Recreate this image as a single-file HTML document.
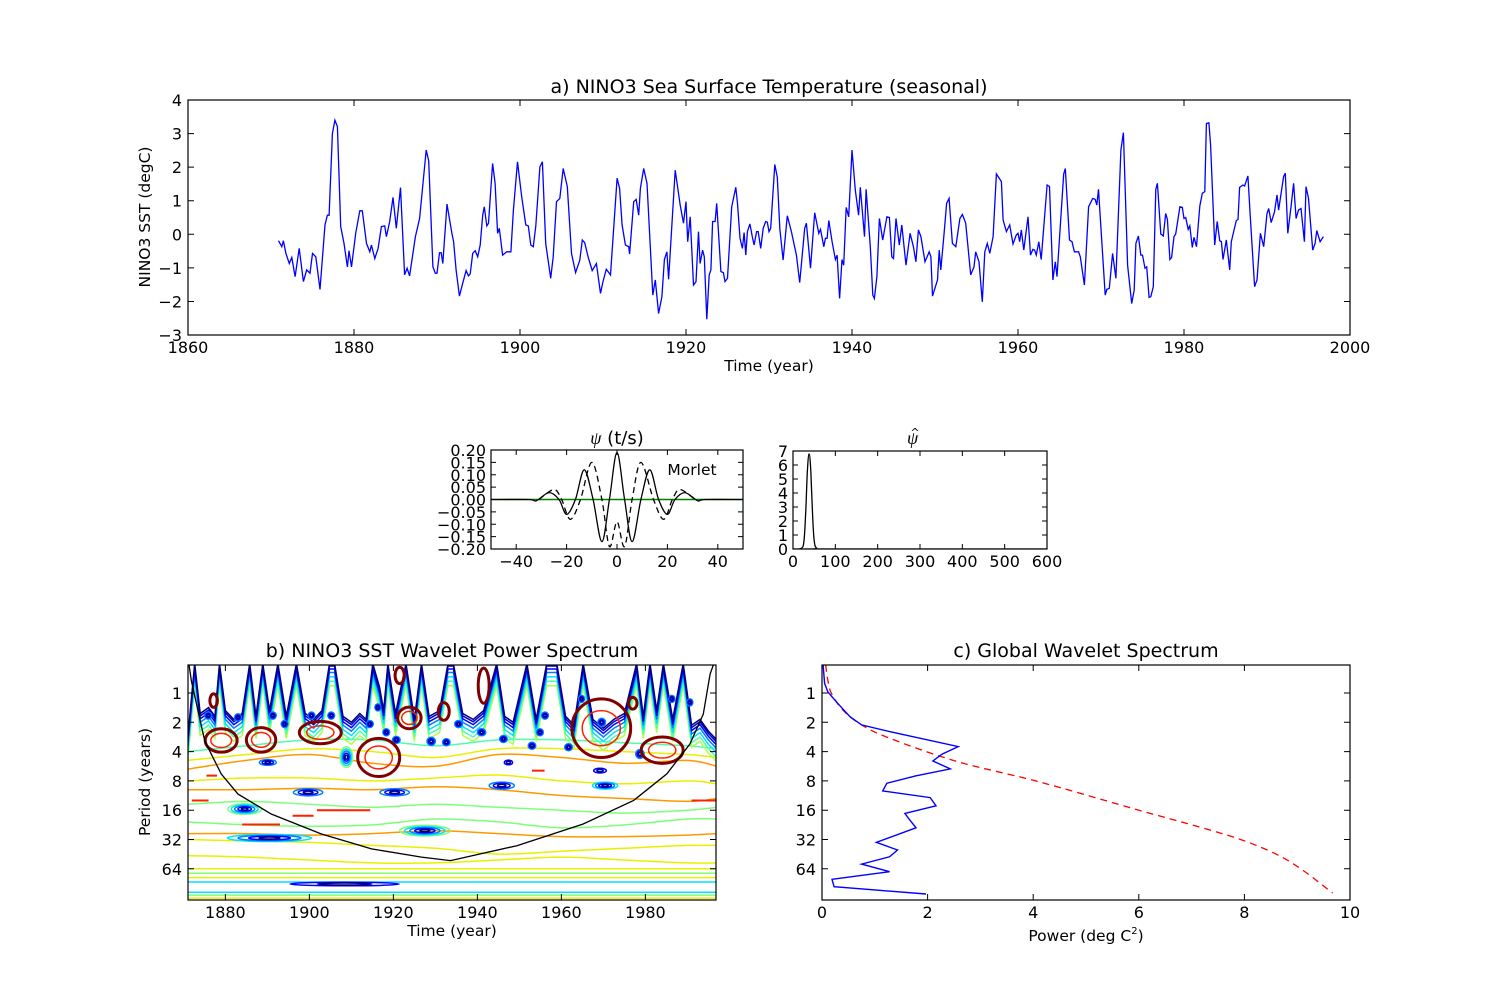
<!DOCTYPE html>
<html><head><meta charset="utf-8">
<style>
html,body{margin:0;padding:0;background:#fff;}
svg{display:block;font-family:"DejaVu Sans","Liberation Sans",sans-serif;}
</style></head>
<body>
<svg id="fig" width="1500" height="1000" viewBox="0 0 1500 1000" xmlns="http://www.w3.org/2000/svg">
<rect width="1500" height="1000" fill="#fff"/>
<defs>
<clipPath id="clipB"><rect x="188" y="665" width="528" height="235"/></clipPath>
<clipPath id="clipC"><rect x="822" y="665" width="528" height="235"/></clipPath>
<clipPath id="clipA"><rect x="188" y="100" width="1162" height="235"/></clipPath>
<clipPath id="clipP"><rect x="491" y="450" width="252" height="99"/></clipPath>
<clipPath id="clipH"><rect x="793" y="451" width="254" height="98"/></clipPath>
</defs>
</svg>
<script>
// ---------- Panel a data ----------
const sstYears=[1870.9,1871.3,1871.5,1871.8,1872.2,1872.5,1872.9,1873.4,1873.9,1874.3,1874.7,1875.0,1875.4,1875.9,1876.5,1876.8,1877.0,1877.4,1877.7,1878.0,1878.4,1878.8,1879.2,1879.4,1879.7,1880.2,1880.7,1881.0,1881.5,1881.9,1882.1,1882.5,1882.9,1883.3,1883.7,1883.9,1884.3,1884.7,1885.1,1885.6,1886.1,1886.4,1886.7,1887.4,1887.9,1888.7,1889.0,1889.5,1889.8,1890.0,1890.3,1890.5,1890.7,1891.2,1891.8,1892.0,1892.3,1892.7,1893.1,1893.5,1893.8,1894.0,1894.3,1894.6,1894.9,1895.2,1895.5,1895.7,1896.0,1896.2,1896.7,1897.0,1897.3,1897.5,1897.9,1898.4,1898.9,1899.2,1899.7,1900.2,1900.7,1901.0,1901.3,1901.6,1901.9,1902.4,1902.7,1903.1,1903.7,1904.0,1904.4,1904.8,1905.2,1905.7,1906.2,1906.7,1907.2,1907.5,1907.8,1908.2,1908.7,1909.2,1909.7,1910.0,1910.4,1910.9,1911.7,1912.0,1912.3,1912.7,1913.1,1913.2,1913.7,1914.0,1914.3,1914.5,1914.9,1915.3,1916.0,1916.3,1916.7,1917.1,1917.4,1917.7,1917.9,1918.7,1919.3,1919.7,1920.0,1920.2,1920.5,1920.9,1921.2,1921.5,1921.7,1922.0,1922.2,1922.5,1922.8,1923.0,1923.2,1923.5,1923.7,1924.2,1924.5,1924.7,1925.0,1925.5,1926.0,1926.2,1926.5,1926.8,1927.0,1927.2,1927.4,1927.7,1928.0,1928.2,1928.5,1928.7,1929.0,1929.3,1929.6,1929.8,1930.0,1930.2,1930.7,1931.0,1931.3,1931.7,1932.2,1932.7,1933.3,1933.7,1934.3,1934.5,1935.0,1935.5,1936.0,1936.2,1936.6,1936.8,1937.0,1937.2,1937.6,1938.0,1938.2,1938.5,1938.8,1939.0,1939.3,1939.6,1940.0,1940.4,1940.8,1941.0,1941.5,1941.7,1942.2,1942.5,1942.7,1943.0,1943.3,1943.7,1944.2,1944.5,1944.8,1945.0,1945.3,1945.7,1946.0,1946.5,1947.0,1947.4,1947.7,1948.0,1948.3,1948.8,1949.3,1949.5,1949.7,1950.3,1950.5,1950.7,1951.1,1951.4,1951.7,1952.1,1952.5,1953.0,1953.3,1953.7,1954.3,1954.7,1954.9,1955.3,1955.7,1956.0,1956.3,1956.6,1957.0,1957.4,1958.0,1958.2,1958.6,1959.0,1959.4,1959.8,1960.0,1960.2,1960.4,1960.7,1961.2,1961.5,1961.8,1962.0,1962.2,1962.5,1962.8,1963.5,1963.8,1964.2,1964.5,1964.7,1965.5,1965.7,1966.2,1966.5,1966.8,1967.3,1967.5,1968.0,1968.5,1969.0,1969.3,1969.5,1969.7,1970.5,1970.7,1971.0,1971.4,1971.8,1972.4,1972.7,1973.2,1973.7,1974.0,1974.2,1974.5,1974.8,1975.0,1975.3,1975.5,1975.8,1976.0,1976.3,1976.6,1976.8,1977.2,1977.5,1977.8,1978.0,1978.3,1978.5,1978.8,1979.0,1979.5,1979.8,1980.0,1980.2,1980.5,1980.7,1981.0,1981.2,1981.5,1981.9,1982.2,1982.5,1982.7,1983.0,1983.2,1983.7,1984.0,1984.3,1984.5,1984.7,1985.1,1985.5,1985.7,1986.3,1986.5,1986.7,1987.1,1987.3,1987.7,1988.0,1988.5,1988.8,1989.2,1989.6,1990.0,1990.2,1990.5,1990.9,1991.2,1991.4,1992.0,1992.2,1992.5,1992.9,1993.2,1993.5,1993.8,1994.1,1994.5,1994.7,1995.0,1995.5,1995.8,1996.0,1996.4,1996.8];
const sstValues=[-0.19,-0.37,-0.19,-0.57,-0.87,-0.69,-1.26,-0.42,-1.41,-1.06,-1.16,-0.57,-0.67,-1.64,0.28,0.57,0.57,3.0,3.40,3.21,0.23,-0.27,-0.97,-0.49,-0.97,0.03,0.70,0.70,-0.27,-0.52,-0.32,-0.72,-0.42,0.23,0.25,-0.07,0.38,1.10,0.18,1.39,-1.21,-1.01,-1.24,-0.07,0.47,2.51,2.19,-0.97,-1.16,-1.16,-0.55,-0.55,-0.87,0.90,0.03,-0.22,-1.06,-1.84,-1.46,-1.08,-1.24,-1.18,-0.57,-0.49,-0.67,-0.32,0.57,0.82,0.25,0.33,2.11,1.52,0.03,0.18,-0.62,-0.52,-0.52,0.72,2.16,1.12,0.28,0.25,-0.32,-0.37,0.25,2.01,2.16,-0.27,-1.31,-0.67,0.97,1.07,1.96,1.42,-0.57,-1.14,-0.77,-0.17,-0.25,-0.67,-1.08,-0.87,-1.76,-1.41,-1.04,-1.21,1.67,1.37,0.28,-0.32,-0.37,-0.59,0.97,1.04,0.57,1.37,1.96,1.52,-1.81,-1.36,-2.36,-1.86,-0.75,-0.52,-1.34,1.91,0.87,0.33,0.97,-0.22,0.52,-1.51,-1.41,0.08,-0.87,-0.47,-0.67,-2.53,-1.21,-1.06,0.38,0.38,0.92,-1.11,-1.14,-1.41,-1.31,0.82,1.40,0.92,-0.12,-0.42,0.05,-0.62,0.08,0.31,-0.09,-0.32,0.08,0.08,-0.42,0.18,0.38,0.36,0.08,0.18,2.08,1.70,0.18,-0.77,0.55,0.08,-0.62,-1.44,0.18,0.33,-1.01,0.64,0.03,0.15,-0.37,-0.12,-0.12,0.41,-0.22,-0.75,-0.62,-1.91,-0.75,-0.92,0.80,0.52,2.51,1.32,0.57,1.40,-0.07,1.34,-0.37,-1.81,-1.91,-1.26,0.47,-0.17,0.52,0.50,-0.67,-0.72,0.47,-0.32,0.28,-0.92,0.03,-0.37,-0.82,0.13,-0.07,-0.82,-0.52,-0.67,-1.84,-1.36,-0.47,-1.06,0.03,0.92,1.07,-0.27,-0.37,0.47,0.59,0.33,-1.21,-0.97,-0.52,-0.82,-2.01,-0.52,-0.27,-0.57,-0.07,1.80,1.57,0.43,0.08,0.28,-0.29,-0.02,0.03,-0.22,0.13,-0.47,0.52,-0.62,-0.45,-0.47,-0.62,-0.22,-0.75,1.47,1.42,-1.36,-0.82,-1.26,1.80,1.96,-0.17,-0.22,-0.52,-0.52,-0.67,-1.51,0.82,1.07,1.04,0.87,1.34,-1.81,-1.64,-1.61,-0.57,-1.31,2.51,3.03,-0.92,-2.06,-1.66,-0.27,-0.05,-0.62,-0.62,-1.01,-0.97,-1.88,-1.86,-1.56,1.34,1.52,0.01,-0.05,0.62,0.44,-0.75,-0.69,-0.07,0.01,0.82,0.80,0.47,0.50,0.15,0.25,-0.39,-0.09,-0.37,0.84,1.22,1.27,3.30,3.32,2.66,-0.32,0.38,-0.19,-0.22,-0.75,-0.17,-1.06,-0.22,0.41,0.44,1.40,1.47,1.44,1.74,0.47,-1.56,-1.36,0.03,-0.37,0.62,0.77,0.35,0.67,1.17,0.72,1.72,1.82,0.03,0.84,1.52,0.47,0.72,0.77,-0.22,1.42,1.07,-0.47,-0.27,0.11,-0.22,-0.07];
const aXTicks=[1860,1880,1900,1920,1940,1960,1980,2000];
const aYTicks=[4,3,2,1,0,-1,-2,-3];

// ---------- Wavelet function data ----------
const psiRealT=[-50,-35,-32,-27,-23,-20,-16.5,-13,-9.5,-6,-3,0,3,6,9.5,13,16.5,20,23,27,32,35,50];
const psiRealV=[0,0,-0.005,0.028,0,-0.06,0,0.12,0,-0.17,0,0.19,0,-0.17,0,0.12,0,-0.06,0,0.028,-0.005,0,0];
const psiImagT=[-31,-25,-22,-18.5,-14.5,-10,-6,-3,0,3,6,9.5,14.5,18.5,22,25,31];
const psiImagV=[0,0.04,0,-0.08,0,0.15,0,-0.19,-0.09,-0.19,0,0.15,0,-0.08,0,0.04,0];
const psiXTicks=[-40,-20,0,20,40];
const psiYTicks=[0.20,0.15,0.10,0.05,0.00,-0.05,-0.10,-0.15,-0.20];
const hatF=[0,20,26,30,34,38,42,46,50,56,70,600];
const hatV=[0,0.05,0.6,2.6,5.6,6.8,5.6,2.6,0.6,0.05,0,0];
const hatXTicks=[0,100,200,300,400,500,600];
const hatYTicks=[0,1,2,3,4,5,6,7];

// ---------- Panel b data ----------
const bXTicks=[1880,1900,1920,1940,1960,1980];
const periodTicks=[1,2,4,8,16,32,64];
const ridgeYears=[1871,1872.7,1874,1876,1877.5,1878.6,1880,1882,1884,1885.8,1887.3,1888.9,1890.5,1892.5,1894.5,1896.9,1899,1901,1903,1904.8,1906,1908,1910,1912,1913.5,1915.1,1916.7,1917.7,1918.7,1920.5,1923,1925,1926.7,1928.5,1931,1933,1934.3,1936.5,1939,1941.5,1944.6,1946.5,1948.5,1951.8,1954,1956.5,1958.9,1961,1963,1965.2,1967.5,1970,1972.5,1975,1977.9,1979.5,1981.1,1982.7,1984.3,1986.5,1989,1991,1993,1995,1997];
const ridgeLog2=[1.6,-1,0.7,0.5,0.8,-1,0.6,0.9,0.7,-1,0.8,-1,0.6,-1,0.8,-1,0.7,0.9,0.6,-1,-1,0.8,1.0,0.7,0.9,-1,-0.2,0.6,-1,0.7,-1,0.9,-1,0.8,0.6,-1,-1,0.7,0.9,0.6,-1,0.8,1.0,-1,0.9,-1,-1,0.8,1.1,-1,0.9,1.2,0.9,0.7,-1,0.8,-1,0.6,-1,0.9,-1,1.1,0.9,1.3,1.6];
const blobYear=[1879,1888.5,1902.6,1916.5,1877.2,1923.8,1932,1921.5,1941.5,1969.5,1984,1977];
const blobLog2=[1.62,1.6,1.35,2.2,0.26,0.85,0.63,-0.6,-0.25,1.2,1.95,0.35];
const blobHalfW=[3.8,3.5,5,5,0.9,2.8,1.3,1.1,1.3,7,5,1];
const blobHalfH=[0.4,0.42,0.38,0.65,0.23,0.37,0.3,0.28,0.6,1.0,0.45,0.2];
const dashY1=[1872,1901.8,1896,1884,1875.5,1953,1991];
const dashY2=[1876,1914.5,1901,1893,1878,1956,1997];
const dashLog2=[3.67,4.0,4.19,4.49,2.82,2.65,3.67];
const ringYear=[1875.9,1883.0,1891.3,1894.1,1900.5,1905.2,1908.8,1914.4,1916.3,1918.3,1920.7,1929,1932.6,1890.1,1884.6,1899.7,1920.3,1890.5,1927.5,1935.5,1941,1946.2,1953,1954.9,1956.1,1961.7,1969.6,1964.8,1986.3,1990.6,1945.8,1970.4,1969.2,1947.4,1978.7,1908.4];
const ringLog2=[0.77,0.83,0.77,1.06,0.77,0.77,2.19,1.06,0.49,1.34,1.6,1.65,1.68,2.37,3.96,3.39,3.39,4.95,4.7,1.06,1.34,1.57,1.8,1.34,0.77,1.85,1.0,0.2,0.2,0.32,3.16,3.16,2.65,2.37,2.08,6.52];
const ringHalfW=[0.8,0.8,0.8,0.8,0.8,0.8,1.5,0.8,0.7,0.8,0.9,1.0,0.9,2,4,3.5,3.5,10,6,0.9,1,0.9,0.9,0.8,0.8,0.9,0.9,0.7,0.7,0.7,3,3,1.5,1,1,13];
const ringHalfH=[0.12,0.12,0.12,0.12,0.12,0.12,0.35,0.12,0.12,0.12,0.12,0.14,0.12,0.1,0.18,0.12,0.12,0.12,0.18,0.12,0.12,0.12,0.12,0.12,0.12,0.12,0.14,0.12,0.12,0.12,0.12,0.12,0.08,0.08,0.15,0.06];
const ringCount=[3,3,3,3,3,3,5,3,3,3,3,3,3,3,5,3,3,4,5,3,3,3,3,3,3,3,3,3,3,3,3,4,2,2,3,2];
const bandYears=[1871,1885,1900,1915,1930,1945,1960,1975,1990,1997];
const bandOrangeUp=[2.6,2.3,2.1,2.4,2.5,2.1,2.2,2.4,2.3,2.5];
const bandYellowUp=[2.3,2.1,1.9,2.0,2.2,1.9,1.9,2.0,2.1,2.2];
const bandGreenUp=[2.0,1.8,1.6,1.6,1.8,1.6,1.6,1.7,1.8,1.9];
const bandYellowMid=[3.0,2.9,2.9,3.0,2.9,2.8,3.0,3.1,3.0,3.1];
const bandOrangeMid=[3.3,3.3,3.25,3.3,3.2,3.3,3.5,3.6,3.7,3.6];
const bandGreenMid=[3.8,3.7,3.8,3.9,3.8,3.9,4.0,4.1,4.0,3.9];
const bandGreenLow=[4.4,4.5,4.55,4.5,4.3,4.4,4.6,4.5,4.3,4.3];
const bandOrangeLow=[4.8,4.8,4.85,4.8,4.7,4.8,4.9,4.9,4.85,4.8];
const bandYellowLow=[5.0,5.05,5.1,5.2,5.3,5.5,5.4,5.3,5.2,5.2];
const bandYellowLow2=[5.55,5.6,5.7,5.8,5.8,5.7,5.6,5.7,5.8,5.8];
const flatLog2=[6.0,6.15,6.3,6.45,6.8,6.9,7.0];
const coiYears=[1871.1,1871.9,1875.1,1879.0,1883.0,1890.9,1902.8,1914.8,1926.7,1933.6,1949.4,1965.2,1977.2,1985.1,1990.6,1993.8,1995.4,1996.8];
const coiLog2=[-1.2,-0.41,1.64,2.76,3.45,4.13,4.81,5.32,5.6,5.72,5.21,4.47,3.67,2.76,1.74,0.72,-0.65,-1.2];

// ---------- Panel c data ----------
const cXTicks=[0,2,4,6,8,10];
const gwsPower=[0.02,0.05,0.11,0.27,0.53,0.75,1.29,2.58,2.27,2.10,2.43,1.77,1.23,1.15,2.05,2.16,1.57,1.64,1.78,1.03,1.43,1.28,0.75,1.28,0.19,0.23,1.97];
const gwsLog2=[-0.96,-0.33,-0.04,0.30,0.81,1.09,1.32,1.83,2.09,2.32,2.59,2.83,3.08,3.34,3.57,3.85,4.11,4.28,4.60,5.10,5.36,5.59,5.84,6.10,6.36,6.61,6.86];
const sigPower=[0.07,0.11,0.18,0.40,0.75,1.29,2.56,4.11,6.06,7.2,7.96,8.6,9.1,9.67];
const sigLog2=[-0.96,-0.44,0.02,0.59,1.09,1.55,2.34,3.03,4.03,4.6,5.02,5.5,6.04,6.83];

// ---------- axis functions ----------
const xA=y=>188+(y-1860)*8.3, yA=v=>234.3-v*33.57;
const xB=y=>188+(y-1871.1)*4.2, yB=l=>693+l*29.3;
const xC=p=>822+p*52.8;
const xP=t=>491+(t+50)*2.52, yP=v=>499.5-v*247.5;
const xH=f=>793+f*(254/600), yH=v=>549-v*14;

const NS='http://www.w3.org/2000/svg';
const svg=document.getElementById('fig');
function mk(tag,attrs,parent){const e=document.createElementNS(NS,tag);for(const k in attrs)e.setAttribute(k,attrs[k]);(parent||svg).appendChild(e);return e;}
function grp(name,clip){const g=mk('g',clip?{'clip-path':'url(#'+clip+')'}:{});return g;}
function poly(xs,ys){return xs.map((x,i)=>(i?'L':'M')+x.toFixed(1)+','+ys[i].toFixed(1)).join('');}
function smooth(xs,ys){let d='M'+xs[0]+','+ys[0];for(let i=0;i<xs.length-1;i++){const x0=xs[Math.max(i-1,0)],y0=ys[Math.max(i-1,0)],x1=xs[i],y1=ys[i],x2=xs[i+1],y2=ys[i+1],x3=xs[Math.min(i+2,xs.length-1)],y3=ys[Math.min(i+2,ys.length-1)];d+='C'+(x1+(x2-x0)/6).toFixed(1)+','+(y1+(y2-y0)/6).toFixed(1)+' '+(x2-(x3-x1)/6).toFixed(1)+','+(y2-(y3-y1)/6).toFixed(1)+' '+x2.toFixed(1)+','+y2.toFixed(1);}return d;}
function txt(s,x,y,size,anchor,parent){const t=mk('text',{x:x,y:y,'font-size':size,'text-anchor':anchor||'middle',fill:'#000'},parent);t.textContent=s;return t;}
function frame(x,y,w,h){const r=mk('rect',{x:x,y:y,width:w,height:h,fill:'none',stroke:'#000','stroke-width':1.2});return r;}
function fmt(v){return (v<0?'\u2212':'')+Math.abs(v);}

// ================= Panel a =================
const gA=grp('a','clipA');


const sstLine=mk('path',{d:poly(sstYears.map(xA),sstValues.map(yA)),fill:'none',stroke:'#0000ff','stroke-width':1.3},gA);


const fa=frame(188,100,1162,235);


aXTicks.forEach(t=>{const x=xA(t);
 const tk=mk('path',{d:`M${x},335v-6M${x},100v6`,stroke:'#000'});
 
 
 const l=txt(String(t),x,353,16);
 
 });
aYTicks.forEach(t=>{const y=yA(t);
 const tk=mk('path',{d:`M188,${y}h6M1350,${y}h-6`,stroke:'#000'});
 
 
 const l=txt(fmt(t),182,y+6,16,'end');
 
 });
let t1=txt('a) NINO3 Sea Surface Temperature (seasonal)',769,93,19);


let xl1=txt('Time (year)',769,371,15.5);


let yl1=txt('NINO3 SST (degC)',0,0,15.5);
yl1.setAttribute('transform','translate(150,217) rotate(-90)');



// ================= Psi panel =================
const gP=grp('p','clipP');


const zero=mk('path',{d:`M${xP(-50)},${yP(0)}H${xP(50)}`,stroke:'#008000','stroke-width':1.5},gP);


const pr=mk('path',{d:smooth(psiRealT.map(xP),psiRealV.map(yP)),fill:'none',stroke:'#000','stroke-width':1.3},gP);


const pi=mk('path',{d:smooth(psiImagT.map(xP),psiImagV.map(yP)),fill:'none',stroke:'#000','stroke-width':1.3,'stroke-dasharray':'6,4'},gP);


const fp=frame(491,450,252,99);


psiXTicks.forEach(t=>{const x=xP(t);
 const tk=mk('path',{d:`M${x},549v-5M${x},450v5`,stroke:'#000'});
 
 
 const l=txt(fmt(t),x,567,16);
 
 });
psiYTicks.forEach(t=>{const y=yP(t);
 const tk=mk('path',{d:`M491,${y}h5M743,${y}h-5`,stroke:'#000'});
 
 
 const l=txt((t<0?'\u2212':'')+Math.abs(t).toFixed(2),486,y+6,16,'end');
 
 });
let mo=txt('Morlet',692,475,15.5);


let tp=txt('',617,444,18);
tp.innerHTML='<tspan font-family="Liberation Serif, serif" font-style="italic">ψ</tspan> (t/s)';



// ================= Psi hat panel =================
const gH=grp('h','clipH');


const hl=mk('path',{d:smooth(hatF.map(xH),hatV.map(yH)),fill:'none',stroke:'#000','stroke-width':1.3},gH);


const fh=frame(793,451,254,98);


hatXTicks.forEach(t=>{const x=xH(t);
 const tk=mk('path',{d:`M${x},549v-5M${x},451v5`,stroke:'#000'});
 
 
 const l=txt(String(t),x,567,16);
 
 });
hatYTicks.forEach(t=>{const y=yH(t);
 const tk=mk('path',{d:`M793,${y}h5M1047,${y}h-5`,stroke:'#000'});
 
 
 const l=txt(String(t),788,y+6,16,'end');
 
 });
let th=txt('',907,444,18,'start');
th.innerHTML='<tspan font-family="Liberation Serif, serif" font-style="italic">ψ</tspan>';


let hat=txt('^',915,436,11);



// ================= Panel b =================
const gB=grp('b','clipB');


function band(vals,color,w){const p=mk('path',{d:smooth(bandYears.map(xB),vals.map(yB)),fill:'none',stroke:color,'stroke-width':w||1.5},gB);return p;}
[[bandGreenUp,'#4dffaa'],[bandYellowUp,'#e8f000'],[bandOrangeUp,'#ff9900'],[bandYellowMid,'#e8f000'],[bandOrangeMid,'#ff9900'],[bandGreenMid,'#7dff7a'],[bandGreenLow,'#7dff7a'],[bandOrangeLow,'#ff9900'],[bandYellowLow,'#e8f000'],[bandYellowLow2,'#e8f000']].forEach(b=>{
 const p=band(b[0],b[1]);
 
 });
const flatColors=['#e8f000','#7dff7a','#e8f000','#00e0ff','#00e0ff','#7dff7a','#e8f000'];
flatLog2.forEach((l,i)=>{const p=mk('path',{d:`M188,${yB(l)}H716`,stroke:flatColors[i],'stroke-width':1.5},gB);
 
 });
const ridgeOffsets=[0.75,0.6,0.45,0.3,0.18,0.08,0];
const ridgeColors=['#aaff4d','#4dffaa','#00e0ff','#0080ff','#0000ff','#0000cc','#00007f'];
ridgeOffsets.forEach((o,i)=>{const p=mk('path',{d:poly(ridgeYears.map(xB),ridgeLog2.map(v=>yB(v+o))),fill:'none',stroke:ridgeColors[i],'stroke-width':1.5},gB);
 
 });
const ringColors=['#7dff7a','#00e0ff','#0080ff','#0000ff','#00007f'];
ringYear.forEach((yr,i)=>{for(let k=0;k<ringCount[i];k++){const s=1-k/ringCount[i];
 const c=ringColors[ringColors.length-ringCount[i]+k]||'#0000ff';
 const e=mk('ellipse',{cx:xB(yr),cy:yB(ringLog2[i]),rx:ringHalfW[i]*4.2*s,ry:Math.max(ringHalfH[i]*29.3*s,1),fill:'none',stroke:c,'stroke-width':1.5},gB);
 
 }});
dashY1.forEach((y1,i)=>{const p=mk('path',{d:`M${xB(y1)},${yB(dashLog2[i])}H${xB(dashY2[i])}`,stroke:'#ff2000','stroke-width':2},gB);
 
 });
blobYear.forEach((yr,i)=>{
 const e1=mk('ellipse',{cx:xB(yr),cy:yB(blobLog2[i]),rx:blobHalfW[i]*4.2,ry:blobHalfH[i]*29.3,fill:'none',stroke:'#800000','stroke-width':3},gB);
 
 
 if(blobHalfW[i]>2){const e2=mk('ellipse',{cx:xB(yr),cy:yB(blobLog2[i]),rx:blobHalfW[i]*4.2*0.65,ry:blobHalfH[i]*29.3*0.6,fill:'none',stroke:'#ff2000','stroke-width':1.5},gB);
 
 }});
const coi=mk('path',{d:poly(coiYears.map(xB),coiLog2.map(yB)),fill:'none',stroke:'#000','stroke-width':1.3},gB);


const fb=frame(188,665,528,235);


bXTicks.forEach(t=>{const x=xB(t);
 const tk=mk('path',{d:`M${x},900v-6M${x},665v6`,stroke:'#000'});
 
 
 const l=txt(String(t),x,918,16);
 
 });
periodTicks.forEach(t=>{const y=yB(Math.log2(t));
 const tk=mk('path',{d:`M188,${y}h6M716,${y}h-6`,stroke:'#000'});
 
 
 const l=txt(String(t),182,y+6,16,'end');
 
 });
let t2=txt('b) NINO3 SST Wavelet Power Spectrum',452,657,19);


let xl2=txt('Time (year)',452,936,15.5);


let yl2=txt('Period (years)',0,0,15.5);
yl2.setAttribute('transform','translate(150,782) rotate(-90)');



// ================= Panel c =================
const gC=grp('c','clipC');


const sig=mk('path',{d:smooth(sigPower.map(xC),sigLog2.map(yB)),fill:'none',stroke:'#ff0000','stroke-width':1.3,'stroke-dasharray':'7,5'},gC);


const gws=mk('path',{d:poly(gwsPower.map(xC),gwsLog2.map(yB)),fill:'none',stroke:'#0000ff','stroke-width':1.4},gC);


const fc=frame(822,665,528,235);


cXTicks.forEach(t=>{const x=xC(t);
 const tk=mk('path',{d:`M${x},900v-6M${x},665v6`,stroke:'#000'});
 
 
 const l=txt(String(t),x,918,16);
 
 });
periodTicks.forEach(t=>{const y=yB(Math.log2(t));
 const tk=mk('path',{d:`M822,${y}h6M1350,${y}h-6`,stroke:'#000'});
 
 
 const l=txt(String(t),816,y+6,16,'end');
 
 });
let t3=txt('c) Global Wavelet Spectrum',1086,657,19);


let xl3=txt('',1086,941,15.5);
xl3.innerHTML='Power (deg C<tspan dy="-7" font-size="10">2</tspan><tspan dy="7">)</tspan>';


</script>
</body></html>
